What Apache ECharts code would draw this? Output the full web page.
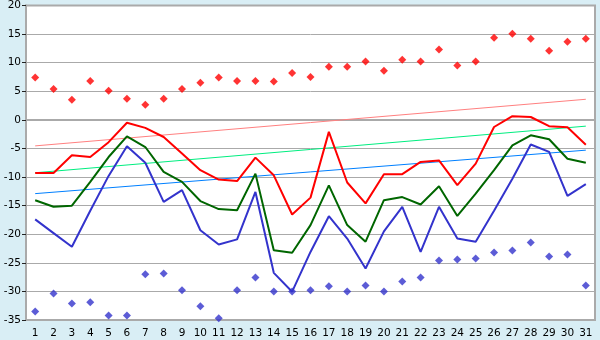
<!DOCTYPE html>
<html>
<head>
<meta charset="utf-8">
<script src="https://cdn.jsdelivr.net/npm/echarts@6/dist/echarts.min.js"></script>
<style>
html, body { margin: 0; padding: 0; background: #d9eef5; }
#main { width: 600px; height: 340px; }
</style>
</head>
<body>
<div id="main"></div>
<script>
var days = [];
for (var d = 1; d <= 31; d++) days.push(String(d));

var maxPoints = [7.4, 5.4, 3.5, 6.8, 5.1, 3.7, 2.65, 3.7, 5.4, 6.5,
    7.4, 6.8, 6.8, 6.7, 8.2, 7.5, 9.3, 9.3, 10.2, 8.6,
    10.5, 10.2, 12.3, 9.5, 10.2, 14.35, 15.05, 14.2, 12.1, 13.65, 14.2];
var minPoints = [-33.5, -30.35, -32.1, -31.9, -34.2, -34.2, -27.0, -26.85, -29.8, -32.6,
    -34.7, -29.8, -27.55, -30.0, -30.0, -29.8, -29.1, -30.0, -28.95, -30.0,
    -28.25, -27.55, -24.6, -24.4, -24.25, -23.2, -22.85, -21.45, -23.9, -23.55, -28.95];
var redLine = [-9.3, -9.3, -6.2, -6.5, -3.9, -0.5, -1.4, -3.0, -5.9, -8.8,
    -10.45, -10.7, -6.6, -9.7, -16.55, -13.6, -2.1, -10.95, -14.6, -9.5,
    -9.5, -7.35, -7.1, -11.4, -7.65, -1.25, 0.65, 0.5, -1.1, -1.3, -4.35];
var greenLine = [-14.05, -15.2, -15.0, -10.85, -6.5, -2.9, -4.75, -9.1, -10.85, -14.2,
    -15.6, -15.8, -9.4, -22.8, -23.25, -18.4, -11.45, -18.4, -21.3, -14.05,
    -13.5, -14.8, -11.6, -16.8, -12.9, -8.8, -4.45, -2.7, -3.4, -6.8, -7.5];
var blueLine = [-17.4, -19.8, -22.2, -15.9, -9.8, -4.6, -7.5, -14.35, -12.3, -19.3,
    -21.8, -20.9, -12.6, -26.75, -30.05, -23.1, -16.85, -20.75, -26.0, -19.5,
    -15.2, -23.1, -15.2, -20.75, -21.3, -15.9, -10.3, -4.3, -5.6, -13.3, -11.25];
// trend lines: value at day 1 and day 31
var redTrend = [-4.55, 3.6];
var greenTrend = [-9.25, -1.1];
var blueTrend = [-12.9, -5.3];

var yTicks = { min: -35, max: 20, interval: 5 };

function trend(ends) {
    return [[days[0], ends[0]], [days[days.length - 1], ends[1]]];
}

function lineSeries(data, color, width) {
    return {
        type: 'line',
        data: data,
        symbol: 'none',
        lineStyle: { color: color, width: width },
        itemStyle: { color: color },
        z: 3
    };
}

function pointSeries(data, color) {
    return {
        type: 'scatter',
        data: data,
        symbol: 'diamond',
        symbolSize: 8,
        itemStyle: { color: color },
        z: 4
    };
}

var myChart = echarts.init(document.getElementById('main'));

var option = {
    animation: false,
    backgroundColor: '#d9eef5',
    textStyle: { fontFamily: 'DejaVu Sans' },
    grid: {
        left: 26,
        right: 5,
        top: 5,
        bottom: 20,
        show: true,
        backgroundColor: '#ffffff',
        borderColor: '#aaaaaa',
        borderWidth: 2
    },
    xAxis: {
        type: 'category',
        data: days,
        boundaryGap: true,
        axisLine: { lineStyle: { color: '#aaaaaa', width: 2 } },
        axisTick: { alignWithLabel: true, length: 5, lineStyle: { color: '#222' } },
        axisLabel: { color: '#000', fontSize: 10.5, margin: 8, interval: 0 }
    },
    yAxis: {
        type: 'value',
        min: yTicks.min,
        max: yTicks.max,
        interval: yTicks.interval,
        axisLine: { show: true, lineStyle: { color: '#aaaaaa', width: 2 } },
        axisTick: { show: true, length: 4, lineStyle: { color: '#222' } },
        axisLabel: { color: '#000', fontSize: 10.5, margin: 5 },
        splitLine: { lineStyle: { color: '#aaaaaa', width: 1 } }
    },
    series: [
        lineSeries(trend(redTrend), '#ff8080', 1),
        lineSeries(trend(greenTrend), '#00ee80', 1),
        lineSeries(trend(blueTrend), '#0080ff', 1),
        lineSeries(redLine, '#ff0000', 2),
        lineSeries(greenLine, '#006600', 2),
        lineSeries(blueLine, '#3333cc', 2),
        pointSeries(maxPoints, '#ff0000'),
        pointSeries(minPoints, '#3333cc')
    ]
};

myChart.setOption(option);

window.onresize = function () {
    myChart.resize();
};
</script>
</body>
</html>
